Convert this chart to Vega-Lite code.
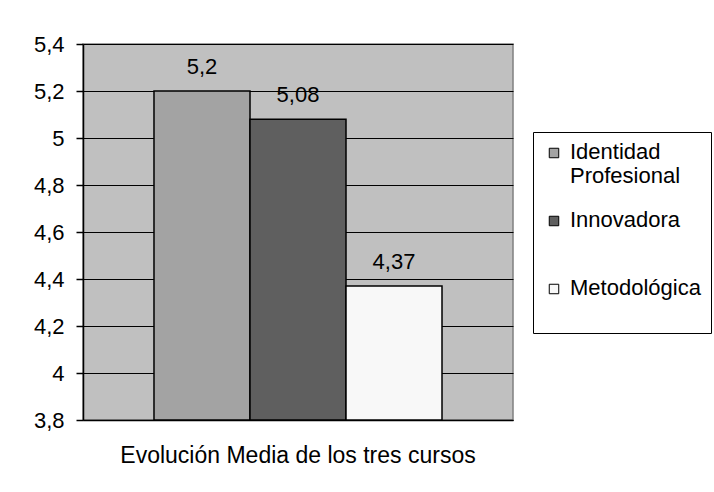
{
  "$schema": "https://vega.github.io/schema/vega-lite/v6.json",
  "width": 430,
  "height": 376,
  "autosize": {"type": "none"},
  "padding": {"left": 83, "top": 44, "right": 201, "bottom": 72},
  "background": "white",
  "data": {
    "values": [
      {"grupo": "Evolución Media de los tres cursos", "serie": "Identidad Profesional", "valor": 5.2},
      {"grupo": "Evolución Media de los tres cursos", "serie": "Innovadora", "valor": 5.08},
      {"grupo": "Evolución Media de los tres cursos", "serie": "Metodológica", "valor": 4.37}
    ]
  },
  "encoding": {
    "x": {
      "field": "grupo",
      "type": "nominal",
      "scale": {"paddingInner": 0, "paddingOuter": 0.2465},
      "axis": {
        "title": null,
        "labelAngle": 0,
        "ticks": false,
        "tickSize": 0,
        "labelPadding": 42,
        "labelBaseline": "alphabetic",
        "labelFontSize": 23,
        "labelLimit": 600,
        "domainColor": "black",
        "domainWidth": 1.5,
        "grid": false
      }
    },
    "xOffset": {
      "field": "serie",
      "type": "nominal",
      "sort": ["Identidad Profesional", "Innovadora", "Metodológica"],
      "scale": {"paddingInner": 0, "paddingOuter": 0}
    },
    "y": {
      "field": "valor",
      "type": "quantitative",
      "scale": {"domain": [3.8, 5.4], "zero": false, "nice": false},
      "axis": {
        "title": null,
        "values": [3.8, 4, 4.2, 4.4, 4.6, 4.8, 5, 5.2, 5.4],
        "format": ".1~f",
        "grid": true,
        "gridColor": "black",
        "gridWidth": 1.2,
        "gridOpacity": 1,
        "tickColor": "black",
        "tickSize": 7,
        "tickWidth": 1.5,
        "labelPadding": 12,
        "labelFontSize": 22,
        "domainColor": "black",
        "domainWidth": 1.5
      }
    }
  },
  "layer": [
    {
      "mark": {"type": "bar", "stroke": "black", "strokeWidth": 1.5},
      "encoding": {
        "y2": {"datum": 3.8},
        "color": {
          "field": "serie",
          "type": "nominal",
          "sort": ["Identidad Profesional", "Innovadora", "Metodológica"],
          "scale": {
            "domain": ["Identidad Profesional", "Innovadora", "Metodológica"],
            "range": ["#a3a3a3", "#5f5f5f", "#f8f8f8"]
          },
          "legend": {
            "title": null,
            "orient": "none",
            "legendX": 450,
            "legendY": 88,
            "symbolType": "square",
            "symbolSize": 90,
            "symbolStrokeColor": "black",
            "symbolStrokeWidth": 1,
            "symbolOpacity": 1,
            "labelFontSize": 22,
            "labelOffset": 5,
            "labelBaseline": "alphabetic",
            "labelLimit": 300,
            "labelExpr": "datum.label == 'Identidad Profesional' ? ['Identidad', 'Profesional'] : (datum.label == 'Innovadora' ? ['Innovadora', ''] : ['Metodológica', ''])",
            "rowPadding": 22,
            "padding": 10,
            "strokeColor": "black",
            "cornerRadius": 0,
            "encode": {"labels": {"update": {"dy": {"value": 6}}}}
          }
        }
      }
    },
    {
      "mark": {"type": "text", "baseline": "middle", "dy": -24, "fontSize": 22, "color": "black"},
      "encoding": {
        "text": {"field": "valor", "type": "quantitative", "format": ".3~g"}
      }
    }
  ],
  "config": {
    "font": "Liberation Sans",
    "locale": {
      "number": {"decimal": ",", "thousands": ".", "grouping": [3], "currency": ["", " €"]}
    },
    "view": {"fill": "#c0c0c0", "stroke": "#808080", "strokeWidth": 1.5},
    "axis": {"labelColor": "black", "labelFont": "Liberation Sans"},
    "legend": {"labelColor": "black", "labelFont": "Liberation Sans"}
  }
}
